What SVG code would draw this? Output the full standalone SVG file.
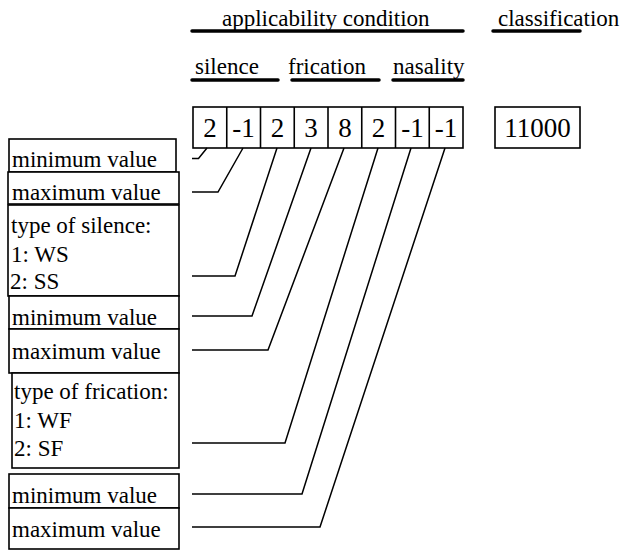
<svg xmlns="http://www.w3.org/2000/svg" width="623" height="552" viewBox="0 0 623 552">
<rect width="623" height="552" fill="#fff"/>
<g id="headers">
<text x="222" y="26" style="font-family:'Liberation Serif';font-size:23px">applicability condition</text>
<text x="498" y="26" style="font-family:'Liberation Serif';font-size:23px">classification</text>
<text x="195" y="74" style="font-family:'Liberation Serif';font-size:23px">silence</text>
<text x="288" y="74" style="font-family:'Liberation Serif';font-size:23px">frication</text>
<text x="393" y="74" style="font-family:'Liberation Serif';font-size:23px">nasality</text>
<g stroke="#000" stroke-width="3.5" stroke-linecap="round" fill="none">
<line x1="192" y1="31" x2="463" y2="31"/>
<line x1="493" y1="31" x2="580" y2="31"/>
<line x1="192" y1="80" x2="278" y2="80"/>
<line x1="292" y1="80" x2="379" y2="80"/>
<line x1="393" y1="80" x2="463" y2="80"/>
</g>
</g>
<g id="vector">
<g fill="#fff" stroke="#000" stroke-width="1.6">
<rect x="193" y="107" width="270" height="41"/>
<line x1="226.75" y1="107" x2="226.75" y2="148"/>
<line x1="260.5" y1="107" x2="260.5" y2="148"/>
<line x1="294.25" y1="107" x2="294.25" y2="148"/>
<line x1="328" y1="107" x2="328" y2="148"/>
<line x1="361.75" y1="107" x2="361.75" y2="148"/>
<line x1="395.5" y1="107" x2="395.5" y2="148"/>
<line x1="429.25" y1="107" x2="429.25" y2="148"/>
</g>
<text x="209.9" y="137" text-anchor="middle" style="font-family:'Liberation Serif';font-size:27px">2</text>
<text x="243.6" y="137" text-anchor="middle" style="font-family:'Liberation Serif';font-size:27px">-1</text>
<text x="277.4" y="137" text-anchor="middle" style="font-family:'Liberation Serif';font-size:27px">2</text>
<text x="311.1" y="137" text-anchor="middle" style="font-family:'Liberation Serif';font-size:27px">3</text>
<text x="344.9" y="137" text-anchor="middle" style="font-family:'Liberation Serif';font-size:27px">8</text>
<text x="378.6" y="137" text-anchor="middle" style="font-family:'Liberation Serif';font-size:27px">2</text>
<text x="412.4" y="137" text-anchor="middle" style="font-family:'Liberation Serif';font-size:27px">-1</text>
<text x="446.1" y="137" text-anchor="middle" style="font-family:'Liberation Serif';font-size:27px">-1</text>
</g>
<g id="classification">
<rect x="495" y="107" width="85" height="41" fill="#fff" stroke="#000" stroke-width="1.6"/>
<text x="537.5" y="137" text-anchor="middle" style="font-family:'Liberation Serif';font-size:27px">11000</text>
</g>
<g id="min1"><rect x="9" y="139" width="167" height="33" fill="#fff" stroke="#000" stroke-width="1.6"/><text x="12" y="167" style="font-family:'Liberation Serif';font-size:23px">minimum value</text></g>
<g id="max1"><rect x="8" y="172" width="171" height="32" fill="#fff" stroke="#000" stroke-width="1.6"/><text x="12" y="200" style="font-family:'Liberation Serif';font-size:23px">maximum value</text></g>
<g id="silence-type"><rect x="8" y="205" width="171" height="91" fill="#fff" stroke="#000" stroke-width="1.6"/>
<text x="11" y="233" style="font-family:'Liberation Serif';font-size:23px">type of silence:</text>
<text x="11" y="262" style="font-family:'Liberation Serif';font-size:23px">1: WS</text>
<text x="10" y="289" style="font-family:'Liberation Serif';font-size:23px">2: SS</text></g>
<g id="min2"><rect x="9" y="296" width="170" height="33" fill="#fff" stroke="#000" stroke-width="1.6"/><text x="12" y="325" style="font-family:'Liberation Serif';font-size:23px">minimum value</text></g>
<g id="max2"><rect x="9" y="329" width="170" height="44" fill="#fff" stroke="#000" stroke-width="1.6"/><text x="12" y="359" style="font-family:'Liberation Serif';font-size:23px">maximum value</text></g>
<g id="frication-type"><rect x="12" y="373" width="167" height="95" fill="#fff" stroke="#000" stroke-width="1.6"/>
<text x="14" y="399" style="font-family:'Liberation Serif';font-size:23px">type of frication:</text>
<text x="14" y="428" style="font-family:'Liberation Serif';font-size:23px">1: WF</text>
<text x="14" y="456" style="font-family:'Liberation Serif';font-size:23px">2: SF</text></g>
<g id="min3"><rect x="9" y="474" width="170" height="34" fill="#fff" stroke="#000" stroke-width="1.6"/><text x="12" y="503" style="font-family:'Liberation Serif';font-size:23px">minimum value</text></g>
<g id="max3"><rect x="9" y="508" width="170" height="41" fill="#fff" stroke="#000" stroke-width="1.6"/><text x="12" y="537" style="font-family:'Liberation Serif';font-size:23px">maximum value</text></g>
<g id="connectors" stroke="#000" stroke-width="1.5" fill="none">
<polyline points="207,148 198.5,158.5 192,158.5"/>
<polyline points="243,148 218,192 192,192"/>
<polyline points="277,148 235,276 192,276"/>
<polyline points="311,148 252,316 192,316"/>
<polyline points="344,148 268,350 192,350"/>
<polyline points="378,148 285,443 192,443"/>
<polyline points="411,148 302,494 192,494"/>
<polyline points="445,148 320,527 192,527"/>
</g>
</svg>
